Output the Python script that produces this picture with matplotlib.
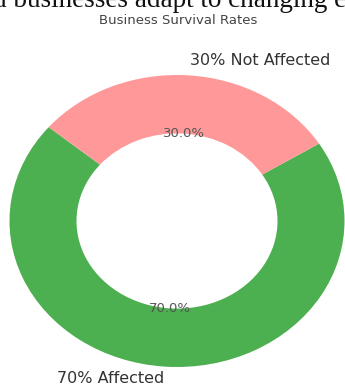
import matplotlib
matplotlib.use("Agg")
import matplotlib.pyplot as plt

# Survival split of businesses
categories = ["Affected", "Not Affected"]
shares = [70, 30]
slice_labels = ["70% Affected", "30% Not Affected"]
slice_colors = ["#4caf50", "#ff9999"]
title_text = "Business Survival Rates"
header_text = "d businesses adapt to changing e"

W, H = 345, 387
fig = plt.figure(figsize=(W / 100, H / 100), dpi=100)
fig.patch.set_facecolor("white")

# Running header line from the surrounding document, cut by the top edge
fig.text(-7 / W, 1 - 7 / H, header_text, family="Liberation Serif",
         fontsize=19.5, color="#111111", ha="left", va="baseline")

# Donut axes (slightly wider than tall)
cx, cy, rx, ry = 177, 221, 167.5, 146
ax = fig.add_axes([(cx - rx) / W, 1 - (cy + ry) / H, 2 * rx / W, 2 * ry / H])

wedges, texts, autotexts = ax.pie(
    shares,
    labels=slice_labels,
    colors=slice_colors,
    startangle=140,
    autopct="%1.1f%%",
    pctdistance=0.6,
    labeldistance=1.1,
    wedgeprops=dict(width=0.4),
    textprops=dict(color="#333333"),
)
for t in texts:
    t.set_fontsize(11.5)
# keep the lower label inside the canvas
lx, ly = texts[0].get_position()
texts[0].set_position((lx, ly + 0.02))
for t in autotexts:
    t.set_fontsize(9.5)
    t.set_color("#555555")

ax.set_aspect("auto")
ax.set_xlim(-1, 1)
ax.set_ylim(-1, 1)
ax.axis("off")

fig.text(178 / W, 1 - 20 / H, title_text, fontsize=9.5, color="#444444",
         ha="center", va="center")

fig.savefig("out.png", dpi=100, facecolor="white")
